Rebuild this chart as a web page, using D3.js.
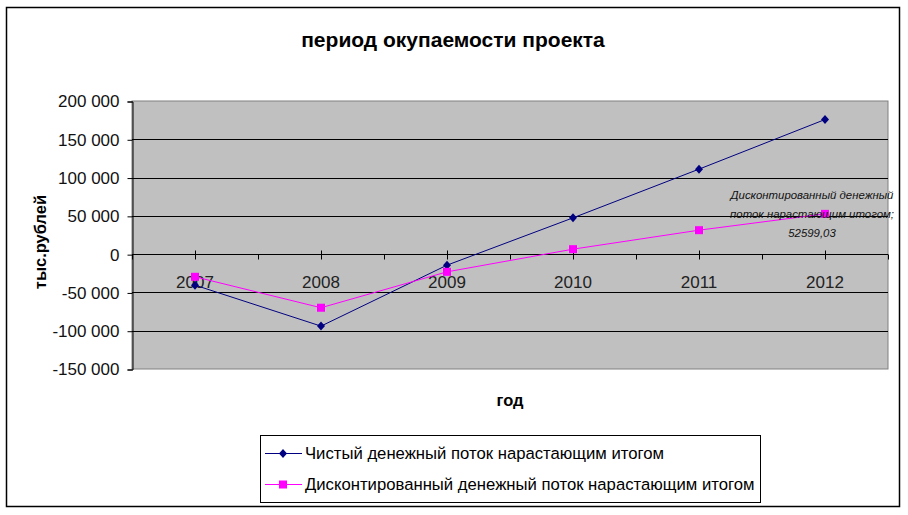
<!DOCTYPE html>
<html>
<head>
<meta charset="utf-8">
<script src="https://cdn.jsdelivr.net/npm/d3@7"></script>
<style>
  body { margin: 0; background: #fff; }
  text { font-family: "Liberation Sans", Arial, sans-serif; }
</style>
</head>
<body>
<script>
const years = ["2007", "2008", "2009", "2010", "2011", "2012"];
const netFlow = [-40500, -94000, -14400, 47400, 111000, 175800];
const discFlow = [-29600, -70000, -23100, 6500, 31300, 52599.03];
const yTicks = [-150000, -100000, -50000, 0, 50000, 100000, 150000, 200000];
const seriesNames = ["Чистый денежный поток нарастающим итогом",
                     "Дисконтированный денежный поток нарастающим итогом"];
const annotation = ["Дисконтированный денежный", "поток нарастающим итогом;", "52599,03"];

const W = 908, H = 515;
const plot = { left: 132, right: 888, top: 101, bottom: 369 };

const svg = d3.select("body").append("svg")
    .attr("width", W)
    .attr("height", H);

// outer frame
svg.append("rect")
    .attr("x", 6.5).attr("y", 7.5)
    .attr("width", 893).attr("height", 499)
    .attr("fill", "#fff")
    .attr("stroke", "#000")
    .attr("stroke-width", 1.5);

const x = d3.scalePoint().domain(years).range([plot.left, plot.right]).padding(0.5);
const y = d3.scaleLinear().domain([-150000, 200000]).range([plot.bottom, plot.top]);

const fmt = d3.formatLocale({ decimal: ",", thousands: " ", grouping: [3], currency: ["", ""], minus: "-" }).format(",d");

// plot background
svg.append("rect")
    .attr("x", plot.left).attr("y", plot.top)
    .attr("width", plot.right - plot.left).attr("height", plot.bottom - plot.top)
    .attr("fill", "#c0c0c0")
    .attr("stroke", "#808080");

// gridlines
svg.append("g")
    .selectAll("line")
    .data(yTicks.filter(d => d > -150000 && d < 200000))
    .enter().append("line")
    .attr("x1", plot.left).attr("x2", plot.right)
    .attr("y1", d => Math.round(y(d)) + 0.5)
    .attr("y2", d => Math.round(y(d)) + 0.5)
    .attr("stroke", "#000");

// y axis
const yAxis = d3.axisLeft(y).tickValues(yTicks).tickFormat(fmt).tickSize(5).tickPadding(8);
const gy = svg.append("g")
    .attr("transform", "translate(" + (plot.left + 0.5) + ",0.5)")
    .call(yAxis);
gy.select(".domain").attr("stroke", "#000");
gy.selectAll("text").attr("font-size", 17).attr("fill", "#111").attr("font-family", "Liberation Sans, Arial");

// category axis at zero
const y0 = Math.round(y(0)) + 0.5;
svg.append("line")
    .attr("x1", plot.left).attr("x2", plot.right)
    .attr("y1", y0).attr("y2", y0)
    .attr("stroke", "#000");
const step = x.step();
svg.append("g").selectAll("line")
    .data(years)
    .enter().append("line")
    .attr("x1", d => Math.round(x(d)) + 0.5)
    .attr("x2", d => Math.round(x(d)) + 0.5)
    .attr("y1", y0 - 4).attr("y2", y0 + 5)
    .attr("stroke", "#000");
svg.append("g").selectAll("line")
    .data(d3.range(years.length + 1))
    .enter().append("line")
    .attr("x1", i => Math.round(plot.left + i * step) + 0.5)
    .attr("x2", i => Math.round(plot.left + i * step) + 0.5)
    .attr("y1", y0).attr("y2", y0 + 5)
    .attr("stroke", "#000");
svg.append("g").selectAll("text")
    .data(years)
    .enter().append("text")
    .attr("x", d => x(d))
    .attr("y", y0 + 33)
    .attr("text-anchor", "middle")
    .attr("font-size", 17)
    .attr("fill", "#222")
    .text(d => d);

// series
const series = [
    { name: seriesNames[0], values: netFlow, color: "#000080", marker: "diamond" },
    { name: seriesNames[1], values: discFlow, color: "#ff00ff", marker: "square" }
];

function drawMarker(g, type, color) {
    if (type === "diamond") {
        g.append("path").attr("d", "M0,-4.5L4,0L0,4.5L-4,0Z").attr("fill", color);
    } else {
        g.append("rect").attr("x", -4).attr("y", -4).attr("width", 8).attr("height", 8).attr("fill", color);
    }
}

const line = d3.line()
    .x((d, i) => x(years[i]))
    .y(d => y(d));

series.forEach(s => {
    svg.append("path")
        .attr("d", line(s.values))
        .attr("fill", "none")
        .attr("stroke", s.color)
        .attr("stroke-width", 1);
    s.values.forEach((v, i) => {
        const g = svg.append("g").attr("transform", "translate(" + x(years[i]) + "," + y(v) + ")");
        drawMarker(g, s.marker, s.color);
    });
});

// data label
const ann = svg.append("text")
    .attr("font-size", 11.4)
    .attr("font-style", "italic")
    .attr("fill", "#111")
    .attr("text-anchor", "middle");
annotation.forEach((t, i) => {
    ann.append("tspan")
        .attr("x", 812)
        .attr("y", 199 + i * 19)
        .text(t);
});

// title
svg.append("text")
    .attr("x", 453).attr("y", 47)
    .attr("text-anchor", "middle")
    .attr("font-size", 21)
    .attr("font-weight", "bold")
    .text("период окупаемости проекта");

// axis titles
svg.append("text")
    .attr("transform", "translate(46,242) rotate(-90)")
    .attr("text-anchor", "middle")
    .attr("font-size", 16.5)
    .attr("font-weight", "bold")
    .text("тыс.рублей");
svg.append("text")
    .attr("x", 510).attr("y", 406)
    .attr("text-anchor", "middle")
    .attr("font-size", 16.5)
    .attr("font-weight", "bold")
    .text("год");

// legend
const legend = svg.append("g");
legend.append("rect")
    .attr("x", 260.5).attr("y", 435.5)
    .attr("width", 500).attr("height", 67)
    .attr("fill", "#fff")
    .attr("stroke", "#000");
series.forEach((s, i) => {
    const ly = 453 + i * 31;
    legend.append("line")
        .attr("x1", 265).attr("x2", 302)
        .attr("y1", ly + 0.5).attr("y2", ly + 0.5)
        .attr("stroke", s.color);
    drawMarker(legend.append("g").attr("transform", "translate(283," + (ly + 0.5) + ")"), s.marker, s.color);
    legend.append("text")
        .attr("x", 305).attr("y", ly + 6)
        .attr("font-size", 16.7)
        .attr("fill", "#000")
        .text(s.name);
});
</script>
</body>
</html>
